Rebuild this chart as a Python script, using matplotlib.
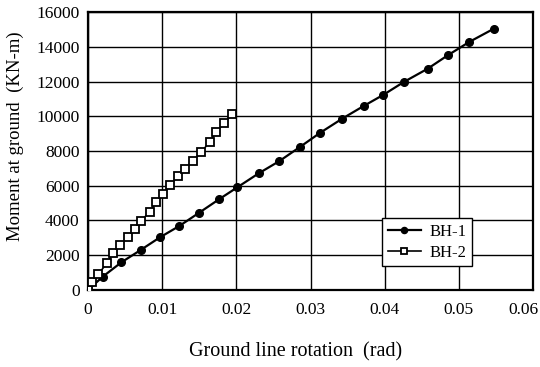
import numpy as np
import matplotlib
matplotlib.use('Agg')
import matplotlib.pyplot as plt

# BH-1 (filled circles)
bh1_rot = [0.0, 0.0020, 0.0045, 0.0071, 0.0097, 0.0123, 0.0150, 0.0177, 0.0201,
           0.0230, 0.0258, 0.0286, 0.0313, 0.0343, 0.0372, 0.0398, 0.0426,
           0.0458, 0.0485, 0.0514, 0.0547]
bh1_mom = [0, 770, 1590, 2300, 3030, 3680, 4450, 5230, 5900,
           6710, 7420, 8240, 9050, 9870, 10600, 11230, 11980,
           12740, 13510, 14280, 15040]

# BH-2 (open squares)
bh2_rot = [0.0, 0.0005, 0.0014, 0.0025, 0.0034, 0.0043, 0.0054, 0.0063, 0.0072,
           0.0083, 0.0092, 0.0101, 0.0111, 0.0121, 0.0131, 0.0141, 0.0153,
           0.0164, 0.0173, 0.0184, 0.0194]
bh2_mom = [0, 480, 900, 1530, 2100, 2590, 3030, 3490, 3990,
           4500, 5040, 5500, 6040, 6550, 6990, 7420, 7950,
           8530, 9100, 9620, 10120]

xticks = [0, 0.01, 0.02, 0.03, 0.04, 0.05, 0.06]
xticklabels = ['0', '0.01', '0.02', '0.03', '0.04', '0.05', '0.06']
yticks = [0, 2000, 4000, 6000, 8000, 10000, 12000, 14000, 16000]

plt.rcParams['font.family'] = ['Liberation Serif', 'DejaVu Serif']

fig = plt.figure(figsize=(5.4, 3.67), dpi=100)
ax = fig.add_axes([0.163, 0.21, 0.824, 0.757])

ax.plot(bh1_rot, bh1_mom, color='black', lw=1.6, marker='o', ms=5.5,
        mfc='black', mec='black', label='BH-1', zorder=3)
ax.plot(bh2_rot, bh2_mom, color='black', lw=1.2, marker='s', ms=5.5,
        mfc='white', mec='black', mew=1.3, label='BH-2', zorder=3)

ax.set_xlim(0, 0.06)
ax.set_ylim(0, 16000)
ax.set_xticks(xticks)
# last label is drawn separately, pulled in so it fits the figure
ax.set_xticklabels(xticklabels[:-1] + [''])
ax.set_yticks(yticks)
ax.grid(True, color='black', lw=1.0)
ax.set_axisbelow(True)
for s in ax.spines.values():
    s.set_linewidth(1.6)
ax.tick_params(axis='both', length=0, labelsize=12.5)
ax.tick_params(axis='y', pad=6)
ax.tick_params(axis='x', pad=9)
ax.text(0.0607, -0.0425, xticklabels[-1], transform=ax.get_xaxis_transform(),
        ha='right', va='top', fontsize=12.5)

ax.set_xlabel('Ground line rotation  (rad)', fontsize=14.5)
ax.xaxis.set_label_coords(0.467, -0.19)
ax.set_ylabel('Moment at ground  (KN-m)', fontsize=13.5)
ax.yaxis.set_label_coords(-0.145, 0.555)

leg = ax.legend(loc='upper left', bbox_to_anchor=(0.66, 0.26), fontsize=12,
                fancybox=False, edgecolor='black', framealpha=1,
                handlelength=2.0, borderpad=0.35, labelspacing=0.3,
                handletextpad=0.5, markerscale=0.8, borderaxespad=0)
leg.get_frame().set_linewidth(1.0)

fig.savefig('out.png', dpi=100)
